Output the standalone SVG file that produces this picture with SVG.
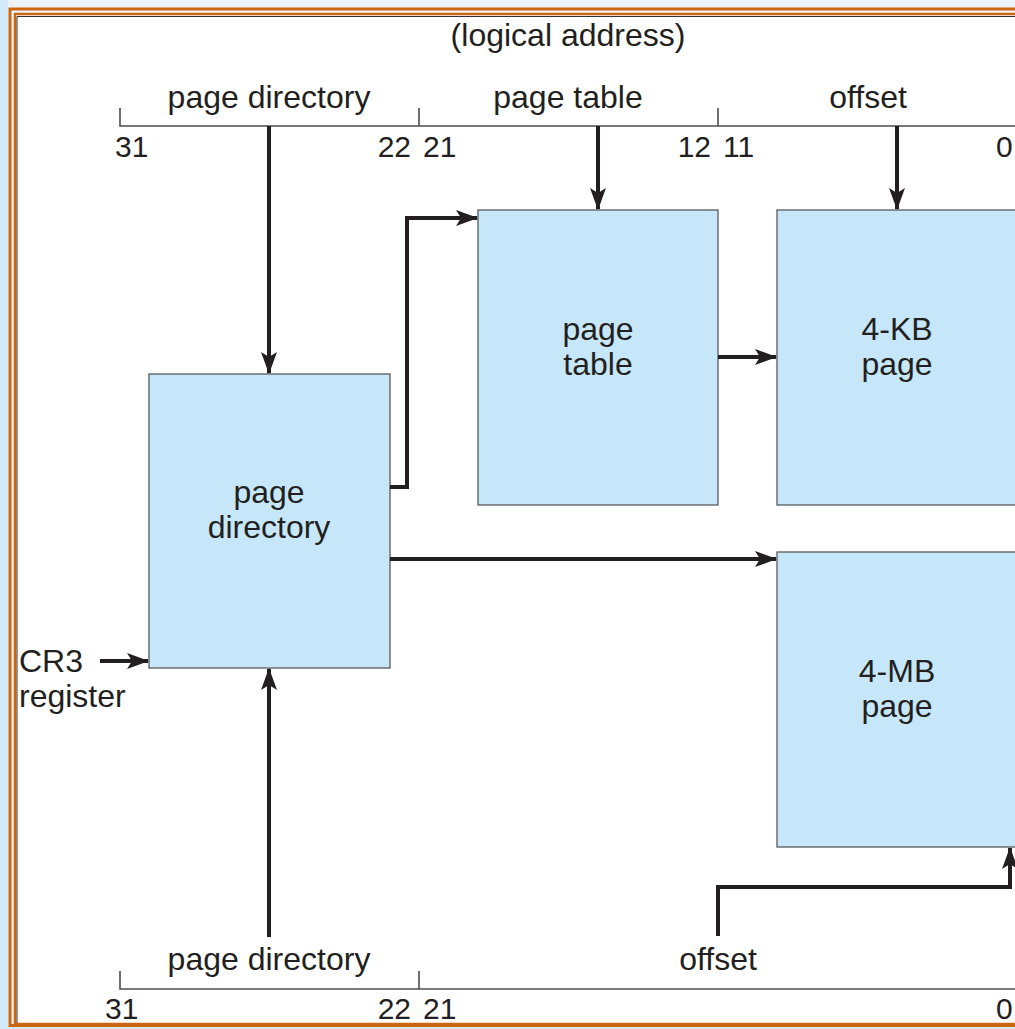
<svg xmlns="http://www.w3.org/2000/svg" width="1015" height="1029" viewBox="0 0 1015 1029">
<style>
text{font-family:"Liberation Sans",Arial,sans-serif;font-size:32px;fill:#231f20}
text.num{font-size:30px}
.box{fill:#c6e7f9;stroke:#58595b;stroke-width:1.3}
.brk{fill:none;stroke:#4d4d4f;stroke-width:1.6}
.con{fill:none;stroke:#231f20;stroke-width:4}
.mid{text-anchor:middle}
.end{text-anchor:end}
</style>
<defs>
<marker id="ah" markerUnits="userSpaceOnUse" markerWidth="22" markerHeight="18" viewBox="0 0 22 18" refX="21" refY="9" orient="auto">
<path d="M0,1 L22,9 L0,17 L5,9 Z" fill="#231f20"/>
</marker>
</defs>
<rect x="0" y="0" width="1015" height="1029" fill="#eef3f8"/>
<rect x="0" y="0" width="8" height="1029" fill="#d3eafa"/>
<rect x="0" y="1027" width="1015" height="2" fill="#d3eafa"/>
<rect x="10" y="9" width="1020" height="1016.5" fill="none" stroke="#cc6611" stroke-width="3"/>
<rect x="15" y="14" width="1010" height="1010" fill="#ffffff" stroke="#cc6611" stroke-width="2.5"/>
<path d="M17,1023 V16.5 H1015" fill="none" stroke="#333" stroke-width="1"/>

<g id="logical-address-top">
<text class="mid" x="568" y="46">(logical address)</text>
<path class="brk" d="M120,108 V126 H1015 M419,108 V126 M718,108 V126"/>
<text class="mid" x="269" y="108">page directory</text>
<text class="mid" x="568" y="108">page table</text>
<text class="mid" x="868" y="108">offset</text>
<text class="num" x="115" y="157">31</text>
<text class="num end" x="411" y="157">22</text>
<text class="num" x="423" y="157">21</text>
<text class="num end" x="711" y="157">12</text>
<text class="num" x="723" y="157">11</text>
<text class="num" x="996" y="157">0</text>
</g>

<g id="logical-address-bottom">
<path class="brk" d="M120,971 V989 H1015 M419,971 V989"/>
<text class="mid" x="269" y="970">page directory</text>
<text class="mid" x="718" y="970">offset</text>
<text class="num" x="105" y="1019">31</text>
<text class="num end" x="411" y="1019">22</text>
<text class="num" x="423" y="1019">21</text>
<text class="num" x="996" y="1019">0</text>
</g>

<g id="cr3-register">
<text x="19" y="672">CR3</text>
<text x="19" y="707">register</text>
</g>

<g id="page-directory">
<rect class="box" x="149" y="374" width="241" height="294"/>
<text class="mid" x="269" y="503">page</text>
<text class="mid" x="269" y="538">directory</text>
</g>

<g id="page-table">
<rect class="box" x="478" y="210" width="240" height="295"/>
<text class="mid" x="598" y="340">page</text>
<text class="mid" x="598" y="375">table</text>
</g>

<g id="page-4kb">
<rect class="box" x="777" y="210" width="260" height="295"/>
<text class="mid" x="897" y="340">4-KB</text>
<text class="mid" x="897" y="375">page</text>
</g>

<g id="page-4mb">
<rect class="box" x="777" y="552" width="260" height="295"/>
<text class="mid" x="897" y="682">4-MB</text>
<text class="mid" x="897" y="717">page</text>
</g>

<g id="connectors">
<path class="con" d="M269,126 V373" marker-end="url(#ah)"/>
<path class="con" d="M598,126 V209" marker-end="url(#ah)"/>
<path class="con" d="M897,126 V209" marker-end="url(#ah)"/>
<path class="con" d="M390,487 H407 V218 H477" marker-end="url(#ah)"/>
<path class="con" d="M718,357 H776" marker-end="url(#ah)"/>
<path class="con" d="M390,559 H776" marker-end="url(#ah)"/>
<path class="con" d="M100,661 H148" marker-end="url(#ah)"/>
<path class="con" d="M269,937 V669" marker-end="url(#ah)"/>
<path class="con" d="M718,936 V887 H1010 V848" marker-end="url(#ah)"/>
</g>
</svg>
